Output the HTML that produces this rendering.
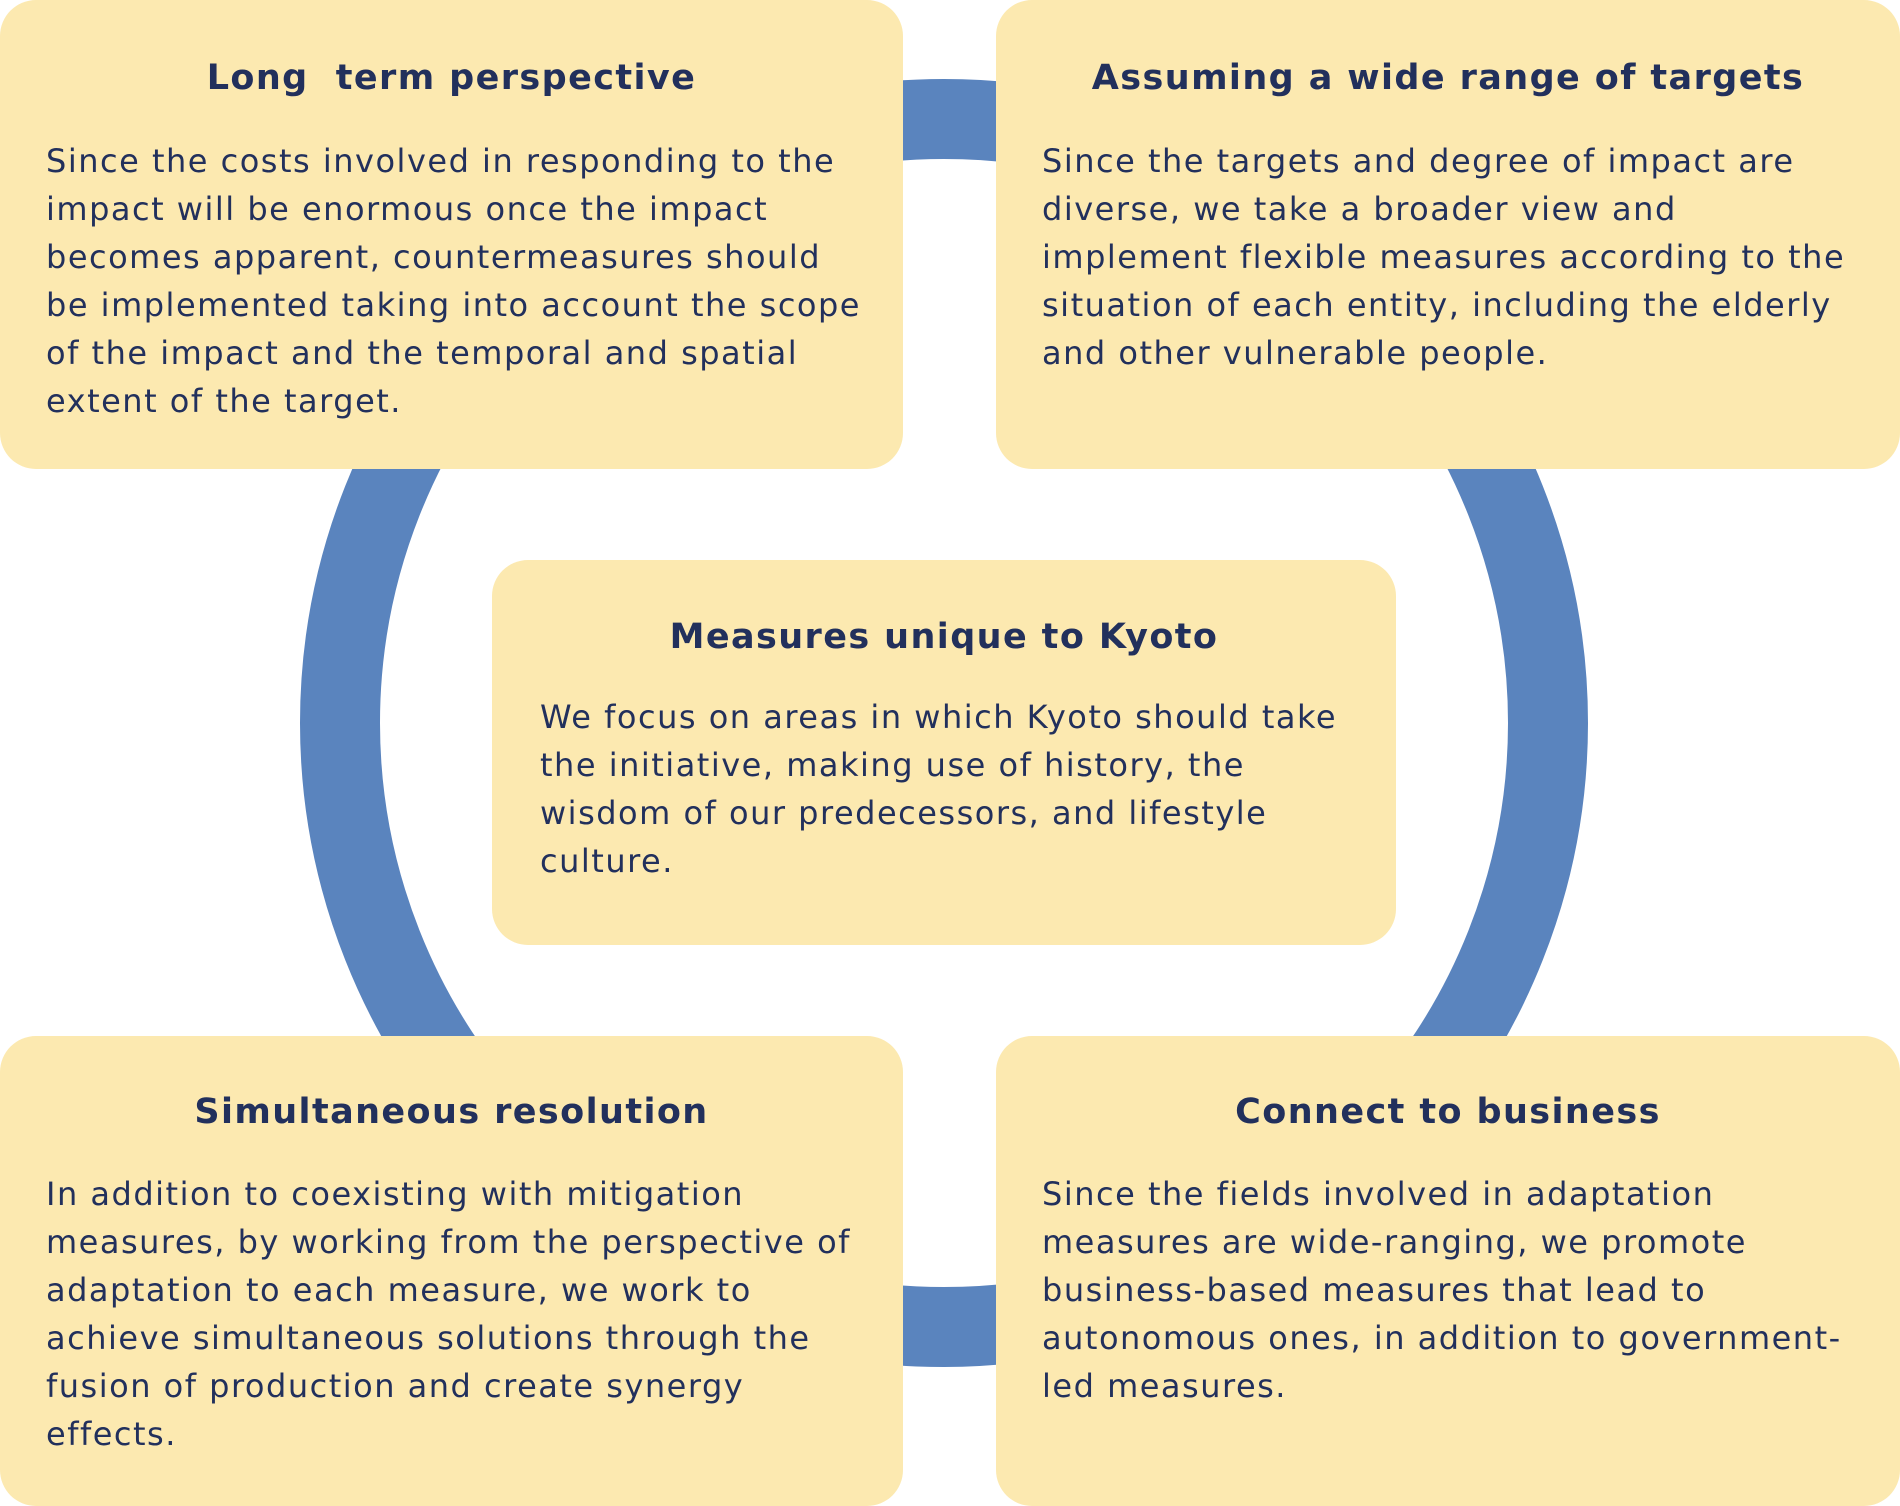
<!DOCTYPE html>
<html><head><meta charset="utf-8"><style>
body{margin:0;width:1900px;height:1506px;background:#fff;position:relative;overflow:hidden;font-family:"DejaVu Sans","Liberation Sans",sans-serif;color:#22305c}
.box{position:absolute;background:#fce9b0;border-radius:36px}
.t{position:absolute;left:0;right:0;text-align:center;font-weight:bold;font-size:35px;line-height:44px;letter-spacing:1.4px}
.b{position:absolute;white-space:pre;font-size:32px;line-height:48px;letter-spacing:1.5px}
</style></head><body>
<svg width="1900" height="1506" style="position:absolute;left:0;top:0">
<circle cx="944" cy="723" r="604" fill="none" stroke="#5a84be" stroke-width="80"/>
</svg>
<div class="box" style="left:0;top:0;width:903px;height:469px">
<div class="t" style="top:56px">Long&nbsp; term perspective</div>
<div class="b" style="left:46px;top:137px">Since the costs involved in responding to the
impact will be enormous once the impact
becomes apparent, countermeasures should
be implemented taking into account the scope
of the impact and the temporal and spatial
extent of the target.</div></div>
<div class="box" style="left:996px;top:0;width:904px;height:469px">
<div class="t" style="top:56px">Assuming a wide range of targets</div>
<div class="b" style="left:46px;top:137px">Since the targets and degree of impact are
diverse, we take a broader view and
implement flexible measures according to the
situation of each entity, including the elderly
and other vulnerable people.</div></div>
<div class="box" style="left:492px;top:560px;width:904px;height:385px">
<div class="t" style="top:55px">Measures unique to Kyoto</div>
<div class="b" style="left:48px;top:133px">We focus on areas in which Kyoto should take
the initiative, making use of history, the
wisdom of our predecessors, and lifestyle
culture.</div></div>
<div class="box" style="left:0;top:1036px;width:903px;height:470px">
<div class="t" style="top:54px">Simultaneous resolution</div>
<div class="b" style="left:46px;top:134px">In addition to coexisting with mitigation
measures, by working from the perspective of
adaptation to each measure, we work to
achieve simultaneous solutions through the
fusion of production and create synergy
effects.</div></div>
<div class="box" style="left:996px;top:1036px;width:904px;height:470px">
<div class="t" style="top:54px">Connect to business</div>
<div class="b" style="left:46px;top:134px">Since the fields involved in adaptation
measures are wide-ranging, we promote
business-based measures that lead to
autonomous ones, in addition to government-
led measures.</div></div>
</body></html>
